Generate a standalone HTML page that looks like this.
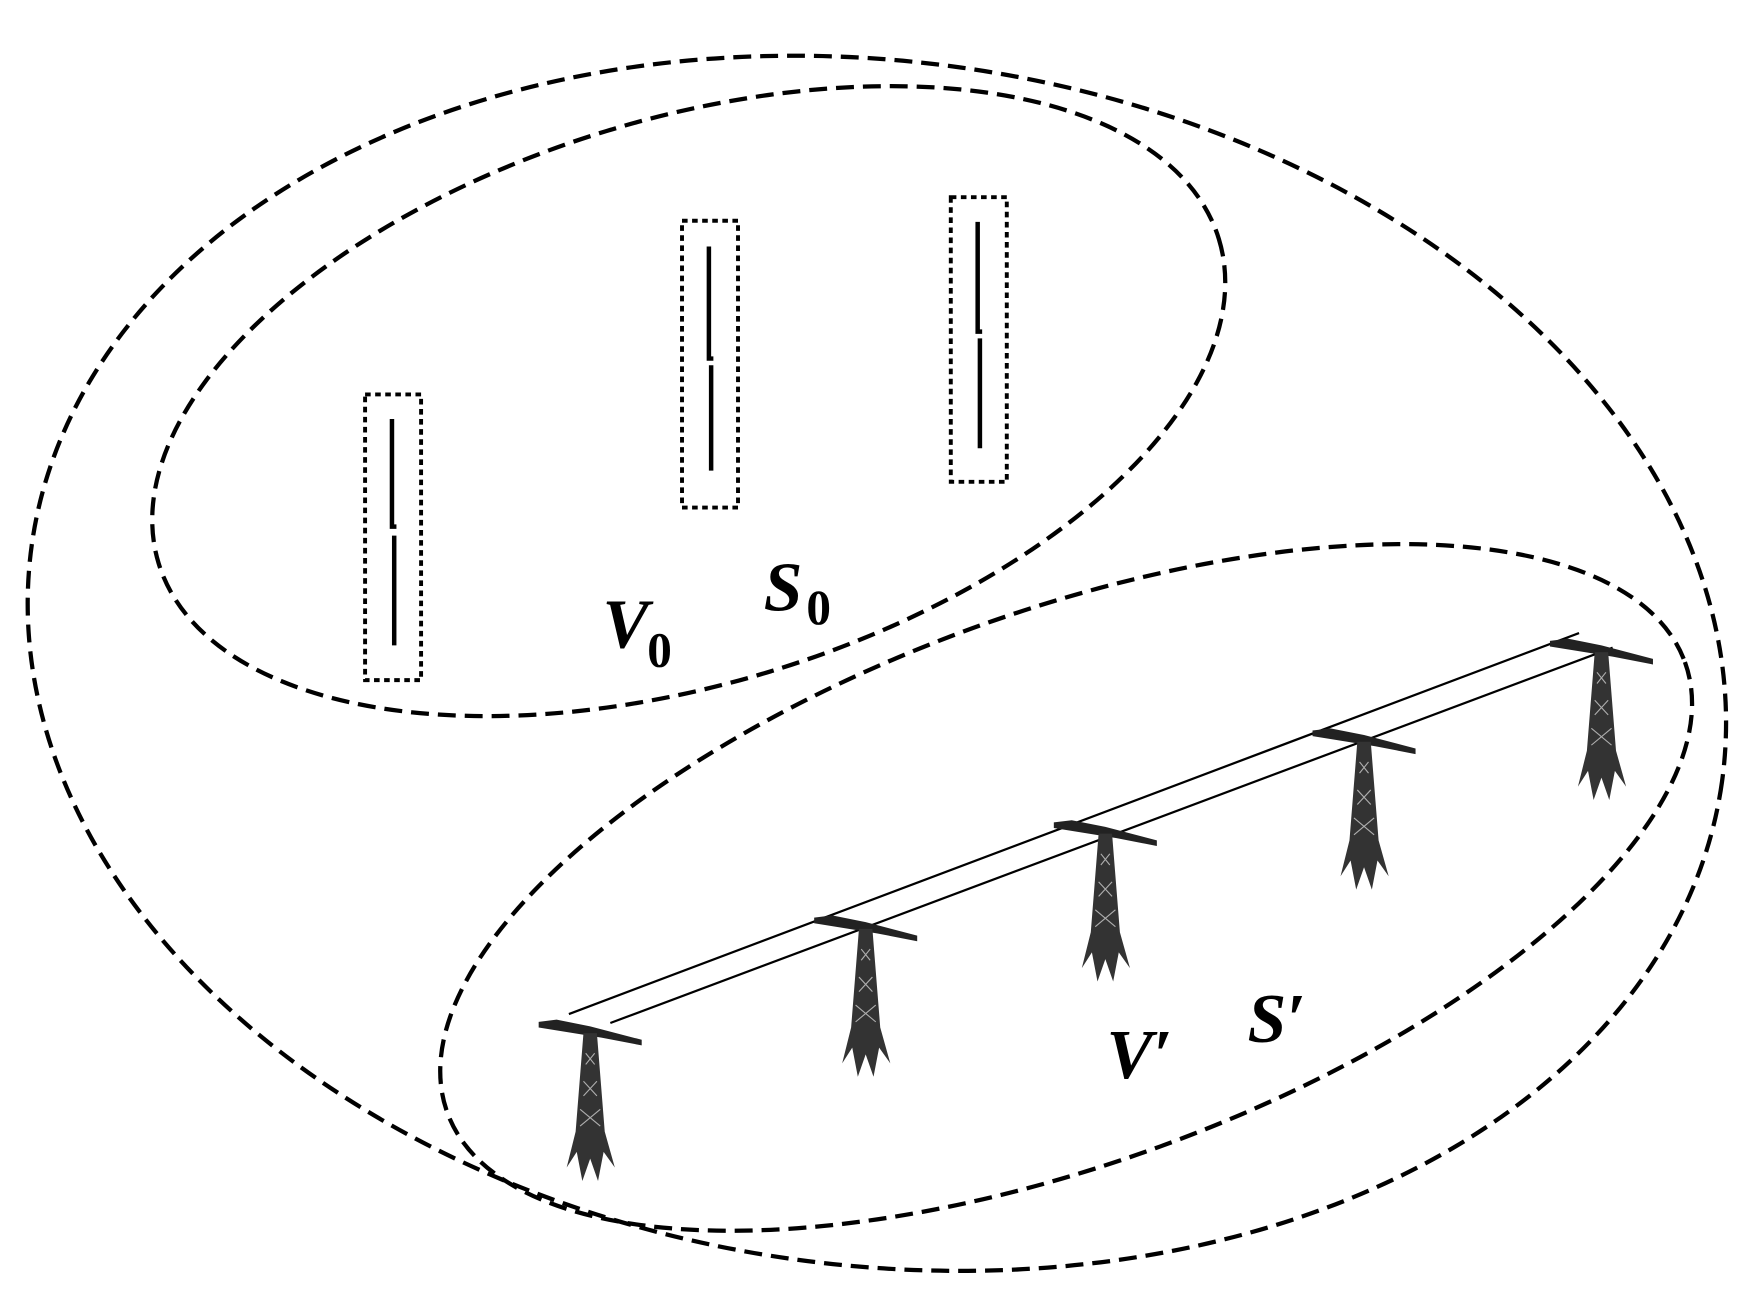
<!DOCTYPE html>
<html><head><style>html,body{margin:0;padding:0;background:#fff;overflow:hidden;width:1756px;height:1302px}svg{display:block}</style></head>
<body>
<svg width="1756" height="1302" viewBox="0 0 1568 1162" preserveAspectRatio="none" xmlns="http://www.w3.org/2000/svg">
<defs>
<g id="tw">
<polygon points="-46,-8 -30,-10 0,-4 46,8 46,13 10,6 -46,-3" fill="#222"/>
<path d="M-6,2 L6,2 L13,90 L22,122 L12,108 L7,134 L0,114 L-7,134 L-12,108 L-21,122 L-13,90 Z" fill="#333"/>
<path d="M-4,20 L4,30 M4,20 L-4,30 M-6,45 L6,58 M6,45 L-6,58 M-9,70 L9,85 M9,70 L-9,85" stroke="#fff" stroke-width="1" opacity="0.6"/>
</g>
</defs>
<g fill="none" stroke="#000" stroke-width="3.8" stroke-dasharray="16,8">
<ellipse cx="783" cy="592" rx="762" ry="537" transform="rotate(8 783 592)"/>
<ellipse cx="615" cy="358" rx="495" ry="252" transform="rotate(-17 615 358)"/>
<ellipse cx="952" cy="792" rx="588" ry="246" transform="rotate(-20 952 792)"/>
</g>
<g fill="none" stroke="#000" stroke-width="3.5" stroke-dasharray="5,4">
<rect x="326" y="352" width="50" height="255"/>
<rect x="609" y="197" width="50" height="256"/>
<rect x="849" y="176" width="50" height="254"/>
</g>
<g stroke="#000" stroke-width="4" fill="none">
<path d="M350,374 V470 H354 M352,478 V576"/>
<path d="M633,220 V320 H637 M635,326 V420"/>
<path d="M873,198 V296 H877 M875,302 V400"/>
</g>
<g stroke="#000" stroke-width="2">
<line x1="508" y1="905" x2="1410" y2="565"/>
<line x1="545" y1="913" x2="1440" y2="578"/>
</g>
<use href="#tw" x="527" y="920"/>
<use href="#tw" x="773" y="827"/>
<use href="#tw" x="987" y="742"/>
<use href="#tw" x="1218" y="660"/>
<use href="#tw" x="1430" y="580"/>
<g font-family="Liberation Serif, serif" font-style="italic" font-weight="bold" font-size="62" fill="#000">
<text x="538" y="578">V</text><text x="578" y="595" font-style="normal" font-size="44">0</text>
<text x="682" y="545">S</text><text x="720" y="557" font-style="normal" font-size="44">0</text>
<text x="988" y="962">V′</text>
<text x="1114" y="930">S′</text>
</g>
</svg>
</body></html>
